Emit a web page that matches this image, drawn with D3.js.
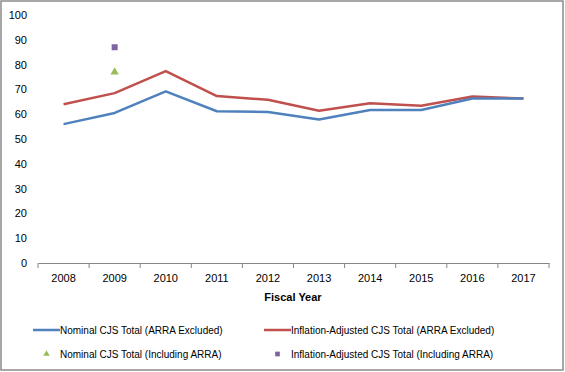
<!DOCTYPE html>
<html><head><meta charset="utf-8">
<script src="https://cdn.jsdelivr.net/npm/d3@7"></script>
<style>body{margin:0;background:#fff}svg{display:block}text{font-family:"Liberation Sans",Arial,sans-serif;fill:#000}</style>
</head><body><svg id="c" width="565" height="372"></svg>
<script>
const years = ["2008","2009","2010","2011","2012","2013","2014","2015","2016","2017"];
const nominalExcl = [56.0,60.5,69.2,61.2,60.9,57.9,61.7,61.7,66.3,66.3];
const inflationExcl = [64.0,68.5,77.4,67.3,65.8,61.4,64.4,63.4,67.1,66.3];
const nominalIncl = [{year:"2009", value:77}];
const inflationIncl = [{year:"2009", value:87}];
const yTicks = [0,10,20,30,40,50,60,70,80,90,100];

const svg = d3.select("#c");
svg.append("rect").attr("x",1).attr("y",1).attr("width",562).attr("height",369)
  .attr("fill","#fff").attr("stroke","#8a8a8a").attr("stroke-width",1.5);

const x = d3.scaleBand().domain(years).range([38,549]);
const y = d3.scaleLinear().domain([0,100]).range([263,15]);
const cx = d => x(d) + x.bandwidth()/2;

// y axis labels (no line)
const ya = svg.append("g").attr("transform","translate(38,0)")
  .call(d3.axisLeft(y).tickValues(yTicks).tickSize(0).tickPadding(11));
ya.select(".domain").remove();
ya.selectAll("text").attr("font-size","11px").attr("font-family","Liberation Sans, Arial, sans-serif").attr("fill","#000");

// x axis
const xa = svg.append("g").attr("transform","translate(0,263)")
  .call(d3.axisBottom(x).tickSize(0).tickPadding(11));
xa.select(".domain").attr("stroke","#868686");
xa.selectAll("text").attr("font-size","11px").attr("font-family","Liberation Sans, Arial, sans-serif").attr("fill","#000");
const bounds = years.map(d=>x(d)).concat([x.range()[1]]);
xa.selectAll(".bt").data(bounds).enter().append("line").attr("class","bt")
  .attr("x1",d=>d).attr("x2",d=>d).attr("y1",0).attr("y2",5).attr("stroke","#868686");

svg.append("text").attr("x",293).attr("y",301).attr("text-anchor","middle")
  .attr("font-size","11px").attr("font-weight","bold").text("Fiscal Year");

const line = d3.line().x((d,i)=>cx(years[i])).y(d=>y(d));
svg.append("path").datum(inflationExcl).attr("d",line).attr("fill","none")
  .attr("stroke","#C0504D").attr("stroke-width",2.5).attr("stroke-linejoin","round");
svg.append("path").datum(nominalExcl).attr("d",line).attr("fill","none")
  .attr("stroke","#4F81BD").attr("stroke-width",2.5).attr("stroke-linejoin","round");

const tri = d3.symbol().type(d3.symbolTriangle).size(30);
const sq = d3.symbol().type(d3.symbolSquare).size(36);
svg.selectAll(".tri").data(nominalIncl).enter().append("path")
  .attr("d",tri).attr("transform",d=>`translate(${cx(d.year)},${y(d.value)})`).attr("fill","#9BBB59");
svg.selectAll(".sq").data(inflationIncl).enter().append("path")
  .attr("d",sq).attr("transform",d=>`translate(${cx(d.year)},${y(d.value)})`).attr("fill","#8064A2");

// legend
const leg = [
  {label:"Nominal CJS Total (ARRA Excluded)", kind:"line", color:"#4F81BD", x:33, y:330},
  {label:"Inflation-Adjusted CJS Total (ARRA Excluded)", kind:"line", color:"#C0504D", x:264, y:330},
  {label:"Nominal CJS Total (Including ARRA)", kind:"tri", color:"#9BBB59", x:33, y:354},
  {label:"Inflation-Adjusted CJS Total (Including ARRA)", kind:"sq", color:"#8064A2", x:264, y:354}
];
leg.forEach(l=>{
  const g = svg.append("g").attr("transform",`translate(${l.x},${l.y})`);
  if(l.kind==="line") g.append("line").attr("x1",0).attr("x2",27).attr("y1",0).attr("y2",0).attr("stroke",l.color).attr("stroke-width",2.5);
  else if(l.kind==="tri") g.append("path").attr("d",d3.symbol().type(d3.symbolTriangle).size(18)).attr("transform","translate(13.5,0)").attr("fill",l.color);
  else g.append("path").attr("d",d3.symbol().type(d3.symbolSquare).size(22)).attr("transform","translate(13.5,0)").attr("fill",l.color);
  g.append("text").attr("x",27).attr("y",4).attr("font-size","10px").text(l.label);
});
</script></body></html>
